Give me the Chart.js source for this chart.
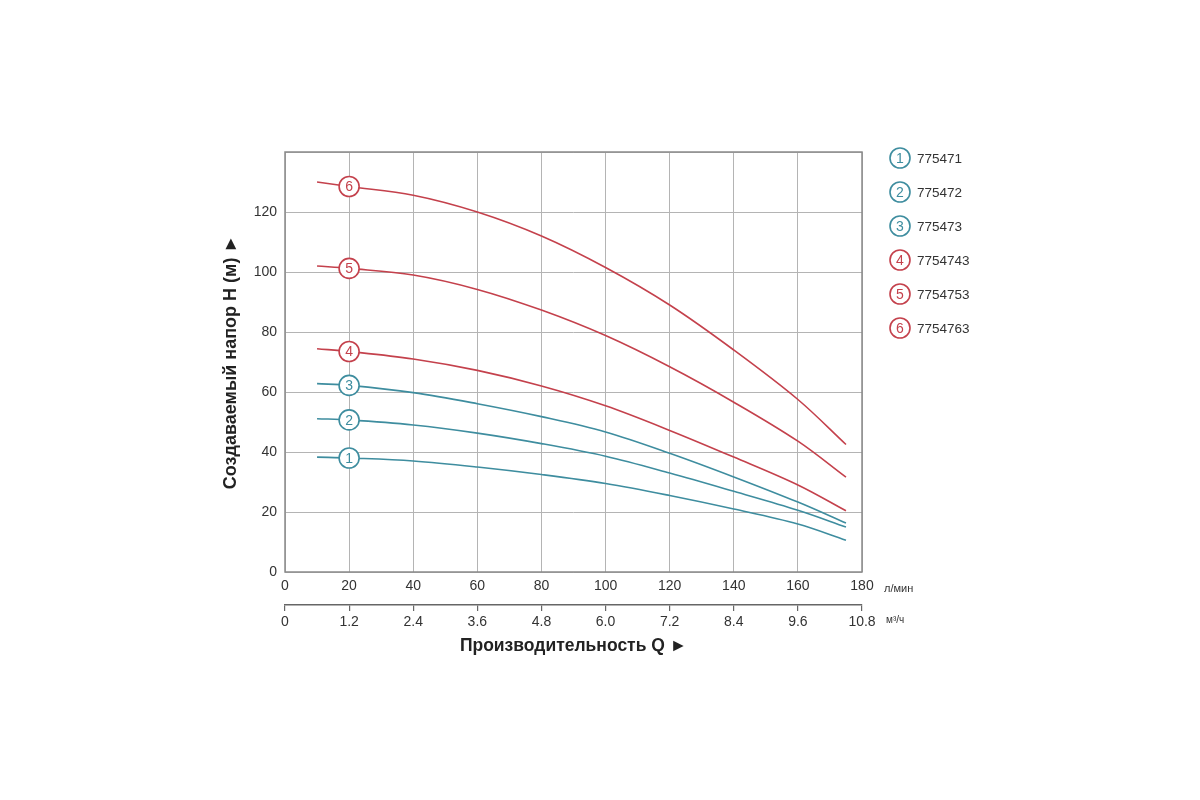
<!DOCTYPE html>
<html>
<head>
<meta charset="utf-8">
<script src="https://cdn.jsdelivr.net/npm/chart.js@4"></script>
<style>
  html, body { margin: 0; padding: 0; background: #fff; }
</style>
</head>
<body>
<canvas id="pumpChart" width="1200" height="800"></canvas>
<script>
// flow points (l/min) where the curves were read
const flowLpm = [10, 20, 40, 60, 80, 100, 120, 140, 160, 175];
// head (m) for each pump model
const head1 = [38.3, 38, 37, 35, 32.5, 29.5, 25.5, 21, 16, 10.6];
const head2 = [51.1, 50.7, 49, 46.3, 42.8, 38.6, 33, 26.9, 20.6, 15];
const head3 = [62.8, 62.2, 59.8, 56.1, 51.8, 46.7, 39.6, 31.7, 23.3, 16.3];
const head4 = [74.4, 73.5, 71, 67.2, 62, 55.4, 47.2, 38.3, 29, 20.4];
const head5 = [102, 101.2, 99, 94.2, 87.3, 78.8, 68.4, 56.6, 43.6, 31.6];
const head6 = [130, 128.5, 125.6, 120, 112, 101.5, 89, 74, 57.5, 42.5];
const models = ["775471", "775472", "775473", "7754743", "7754753", "7754763"];
const curveNumbers = ["1", "2", "3", "4", "5", "6"];
const markerFlow = 20;
const lpmToM3h = 0.06;

const TEAL = "#3e8d9f";
const RED = "#c4414c";
const FONT = "'Liberation Sans', Arial, sans-serif";

const heads = [head1, head2, head3, head4, head5, head6];
const colors = [TEAL, TEAL, TEAL, RED, RED, RED];

const datasets = heads.map((h, i) => ({
  label: models[i],
  data: flowLpm.map((q, j) => ({ x: q, y: h[j] })),
  borderColor: colors[i],
  borderWidth: 1.6,
  pointRadius: 0,
  fill: false,
  tension: 0.35,
}));

function circled(ctx, x, y, txt, color) {
  ctx.save();
  ctx.beginPath();
  ctx.arc(x, y, 10, 0, Math.PI * 2);
  ctx.fillStyle = "#fff";
  ctx.fill();
  ctx.lineWidth = 1.6;
  ctx.strokeStyle = color;
  ctx.stroke();
  ctx.fillStyle = color;
  ctx.font = "14px " + FONT;
  ctx.textAlign = "center";
  ctx.textBaseline = "middle";
  ctx.fillText(txt, x, y + 1);
  ctx.restore();
}

const extras = {
  id: "extras",
  beforeDatasetsDraw(chart) {
    const { ctx, chartArea: a } = chart;
    ctx.save();
    ctx.strokeStyle = "#8a8a8a";
    ctx.lineWidth = 1.5;
    ctx.strokeRect(a.left, a.top, a.right - a.left, a.bottom - a.top);
    ctx.restore();
  },
  afterDatasetsDraw(chart) {
    const { ctx, scales } = chart;
    const xs = scales.x, ys = scales.y;
    const k = flowLpm.indexOf(markerFlow);
    heads.forEach((h, i) => {
      circled(ctx, xs.getPixelForValue(markerFlow), ys.getPixelForValue(h[k]), curveNumbers[i], colors[i]);
    });
    // legend on the right
    models.forEach((m, i) => {
      const ly = 158 + i * 34;
      circled(ctx, 900, ly, curveNumbers[i], colors[i]);
      ctx.save();
      ctx.fillStyle = "#333";
      ctx.font = "13.5px " + FONT;
      ctx.textBaseline = "middle";
      ctx.fillText(m, 917, ly + 1);
      ctx.restore();
    });
    // units next to the x axes
    ctx.save();
    ctx.fillStyle = "#333";
    ctx.textBaseline = "middle";
    ctx.font = "11px " + FONT;
    ctx.fillText("л/мин", 884, 589);
    ctx.font = "10px " + FONT;
    ctx.fillText("м³/ч", 886, 620);
    ctx.restore();
  },
};

new Chart(document.getElementById("pumpChart"), {
  type: "line",
  data: { datasets },
  plugins: [extras],
  options: {
    responsive: false,
    animation: false,
    layout: { padding: { left: 212, top: 152, right: 338, bottom: 140 } },
    plugins: { legend: { display: false }, tooltip: { enabled: false } },
    scales: {
      x: {
        type: "linear",
        position: "bottom",
        weight: 0,
        min: 0,
        max: 180,
        afterFit: (s) => { s.height = 33; },
        ticks: {
          stepSize: 20,
          autoSkip: false,
          maxRotation: 0,
          padding: 6,
          color: "#333",
          font: { family: FONT, size: 14 },
        },
        grid: { color: "#b4b4b4", lineWidth: 1, drawTicks: false },
        border: { display: false },
      },
      x2: {
        type: "linear",
        position: "bottom",
        weight: 1,
        min: 0,
        max: 180,
        afterFit: (s) => { s.height = 55; },
        ticks: {
          stepSize: 20,
          autoSkip: false,
          maxRotation: 0,
          padding: 3,
          color: "#333",
          font: { family: FONT, size: 14 },
          callback: (v) => (v === 0 ? "0" : (v * lpmToM3h).toFixed(1)),
        },
        grid: { drawOnChartArea: false, drawTicks: true, tickLength: 6, color: "#666", lineWidth: 1.2 },
        border: { display: true, color: "#666", width: 1.5 },
        title: {
          display: true,
          text: "Производительность Q ►",
          color: "#222",
          font: { family: FONT, size: 17.5, weight: "bold" },
          padding: { top: 0, bottom: 3 },
        },
      },
      y: {
        min: 0,
        max: 140,
        afterFit: (s) => { s.width = 285 - 212; },
        ticks: {
          stepSize: 20,
          padding: 8,
          color: "#333",
          font: { family: FONT, size: 14 },
          callback: (v) => (v === 140 ? "" : v),
        },
        grid: { color: "#b4b4b4", lineWidth: 1, drawTicks: false },
        border: { display: false },
        title: {
          display: true,
          text: "Создаваемый напор Н (м) ►",
          color: "#222",
          font: { family: FONT, size: 18, weight: "bold" },
          padding: { top: 8, bottom: 0 },
        },
      },
    },
  },
});
</script>
</body>
</html>
